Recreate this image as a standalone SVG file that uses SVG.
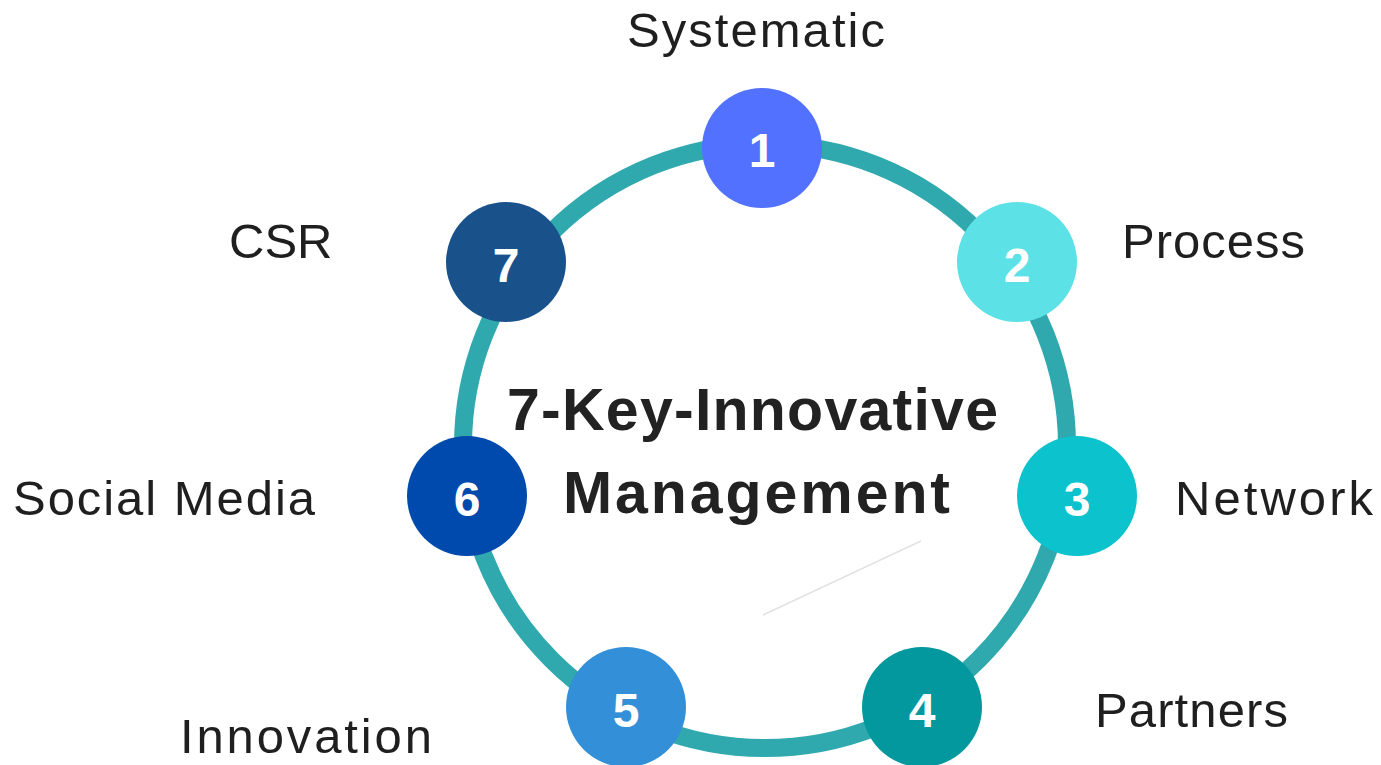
<svg xmlns="http://www.w3.org/2000/svg" width="1381" height="765" viewBox="0 0 1381 765">
  <style>
    .label { font-family: "Liberation Sans", Arial, sans-serif; font-size: 49px; fill: #1f1f1f; }
    .num { font-family: "Liberation Sans", Arial, sans-serif; font-size: 48px; font-weight: bold; fill: #ffffff; text-anchor: middle; }
    .title { font-family: "Liberation Sans", Arial, sans-serif; font-size: 59px; font-weight: bold; fill: #222222; }
  </style>
  <rect width="1381" height="765" fill="#ffffff"/>
  <g id="connectors">
    <circle cx="765" cy="446" r="302" fill="none" stroke="#2fa9ad" stroke-width="18"/>
    <line x1="763" y1="615" x2="921" y2="541" stroke="#e2e2e2" stroke-width="1.5"/>
  </g>
  <g id="title">
    <text class="title" x="507" y="430" textLength="491" lengthAdjust="spacing">7-Key-Innovative</text>
    <text class="title" x="563" y="513" textLength="387" lengthAdjust="spacing">Management</text>
  </g>
  <g id="node1">
    <circle cx="762" cy="148" r="60" fill="#5271ff"/>
    <text class="num" x="762" y="167">1</text>
    <text class="label" x="627" y="47" textLength="258" lengthAdjust="spacing">Systematic</text>
  </g>
  <g id="node2">
    <circle cx="1017" cy="262" r="60" fill="#5ce1e6"/>
    <text class="num" x="1017" y="282">2</text>
    <text class="label" x="1122" y="258" textLength="183" lengthAdjust="spacing">Process</text>
  </g>
  <g id="node3">
    <circle cx="1077" cy="496" r="60" fill="#0cc2cc"/>
    <text class="num" x="1077" y="516">3</text>
    <text class="label" x="1175" y="515" textLength="198" lengthAdjust="spacing">Network</text>
  </g>
  <g id="node4">
    <circle cx="922" cy="707" r="60" fill="#03989e"/>
    <text class="num" x="922" y="727">4</text>
    <text class="label" x="1095" y="727" textLength="193" lengthAdjust="spacing">Partners</text>
  </g>
  <g id="node5">
    <circle cx="626" cy="707" r="60" fill="#3390d8"/>
    <text class="num" x="626" y="727">5</text>
    <text class="label" x="180" y="753" textLength="252" lengthAdjust="spacing">Innovation</text>
  </g>
  <g id="node6">
    <circle cx="467" cy="496" r="60" fill="#004aad"/>
    <text class="num" x="467" y="516">6</text>
    <text class="label" x="13" y="515" textLength="302" lengthAdjust="spacing">Social Media</text>
  </g>
  <g id="node7">
    <circle cx="506" cy="262" r="60" fill="#19518a"/>
    <text class="num" x="506" y="282">7</text>
    <text class="label" x="229" y="258">CSR</text>
  </g>
</svg>
